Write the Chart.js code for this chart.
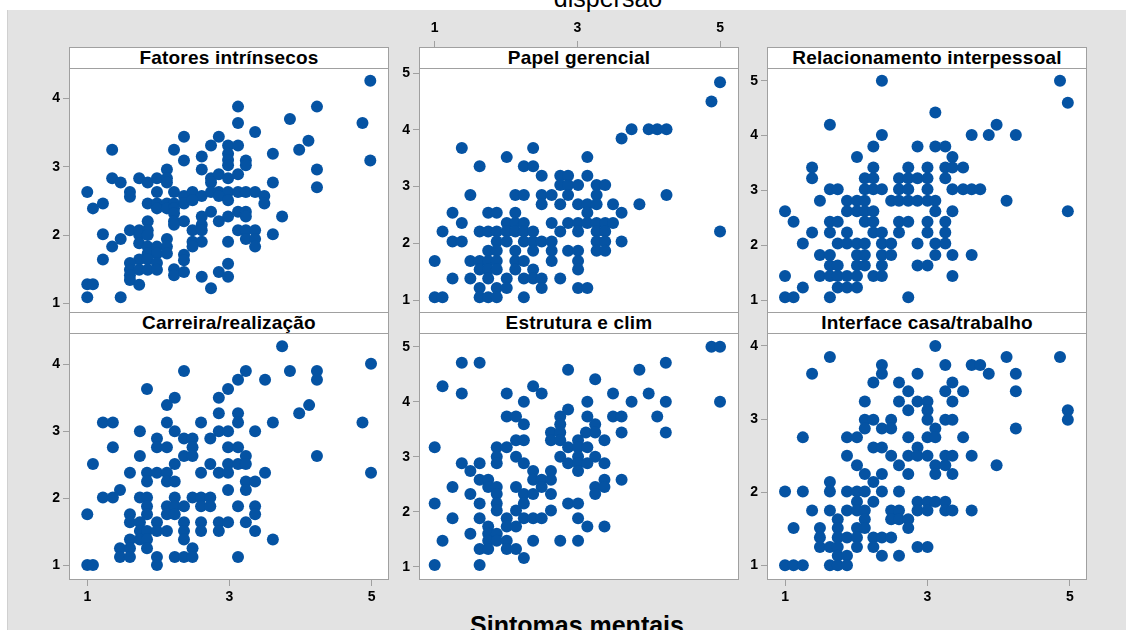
<!DOCTYPE html>
<html lang="pt">
<head>
<meta charset="utf-8">
<title>Matriz de dispersão</title>
<script src="https://cdn.jsdelivr.net/npm/chart.js@4.4.0/dist/chart.umd.min.js"></script>
<style>
  body { margin: 0; width: 1126px; height: 630px; overflow: hidden; background: #fff; position: relative; font-family: "Liberation Sans", Arial, sans-serif; }
  #bg { position: absolute; left: 7px; top: 10px; right: 0; bottom: 0; background: #e3e3e3; border-left: 1px solid #d0d0d0; }
  canvas { position: absolute; }
  .strip { position: absolute; box-sizing: border-box; background: #fff; border: 1px solid #a0a0a0; font-weight: bold; font-size: 19px; letter-spacing: 0.2px; line-height: 19px; text-align: center; color: #000; white-space: nowrap; }
  #topTitle { position: absolute; left: 508px; top: -14px; width: 200px; font-size: 25px; line-height: 25px; text-align: center; color: #000; }
  #xLabel { position: absolute; left: 427px; top: 613px; width: 300px; font-size: 25px; line-height: 25px; font-weight: bold; text-align: center; color: #000; }
</style>
</head>
<body>
<div id="bg"></div>
<div id="topTitle">dispersão</div>
<div id="xLabel">Sintomas mentais</div>
<script>
// data (x = Sintomas mentais)
const xTicks = [1, 3, 5];
const yTicks4 = [1, 2, 3, 4];
const yTicks5 = [1, 2, 3, 4, 5];

const fatoresX = [
  4.98, 3.12, 4.23, 3.12, 3.85, 4.87, 3.36, 2.36, 2.85, 4.11,
  1.35, 2.22, 2.74, 2.98, 3.12, 3.98, 3.61, 2.61, 2.98, 2.98,
  2.98, 2.36, 3.23, 3.23, 4.98, 2.12, 2.61, 4.23, 1.35, 1.47,
  1.73, 1.85, 1.98, 2.12, 2.12, 2.74, 2.85, 2.98, 3.12, 2.74,
  3.61, 4.23, 1.0, 1.60, 1.60, 1.98, 2.22, 2.36, 2.48, 2.61,
  2.74, 2.85, 2.98, 3.12, 3.23, 3.36, 3.49, 3.49, 2.85, 2.98,
  1.08, 1.22, 1.85, 1.98, 2.12, 2.22, 2.36, 2.48, 1.98, 2.12,
  2.22, 2.22, 2.74, 2.61, 2.85, 2.98, 3.12, 3.23, 3.23, 3.74,
  1.85, 2.22, 2.36, 2.22, 2.61, 1.60, 1.73, 1.85, 1.73, 1.85,
  1.22, 2.48, 2.61, 3.12, 3.23, 3.36, 3.23, 3.36, 3.36, 3.61,
  2.98, 2.48, 2.61, 2.48, 1.47, 1.35, 1.73, 1.85, 1.98, 2.12,
  2.12, 1.85, 1.98, 2.12, 1.22, 2.36, 2.36, 1.73, 1.85, 1.60,
  1.98, 1.60, 1.73, 1.85, 1.98, 1.60, 1.60, 1.73, 2.22, 2.22,
  2.36, 2.85, 2.98, 2.98, 2.61, 2.74, 1.0, 1.08, 1.0, 1.47
];
const fatoresY = [
  4.26, 3.88, 3.88, 3.64, 3.70, 3.64, 3.51, 3.44, 3.44, 3.38,
  3.25, 3.25, 3.31, 3.31, 3.31, 3.25, 3.19, 3.15, 3.19, 3.10,
  3.02, 3.09, 3.09, 3.02, 3.09, 2.96, 2.96, 2.96, 2.83, 2.77,
  2.83, 2.77, 2.83, 2.83, 2.77, 2.83, 2.89, 2.83, 2.89, 2.77,
  2.77, 2.70, 2.63, 2.63, 2.56, 2.63, 2.63, 2.57, 2.63, 2.57,
  2.63, 2.63, 2.63, 2.63, 2.63, 2.63, 2.57, 2.46, 2.57, 2.51,
  2.39, 2.46, 2.46, 2.46, 2.46, 2.46, 2.46, 2.51, 2.39, 2.39,
  2.39, 2.32, 2.34, 2.27, 2.20, 2.27, 2.34, 2.34, 2.27, 2.27,
  2.20, 2.20, 2.20, 2.15, 2.15, 2.07, 2.07, 2.07, 2.00, 2.00,
  2.01, 2.07, 2.07, 2.07, 2.07, 2.07, 1.94, 1.94, 1.83, 2.01,
  1.90, 1.90, 1.90, 1.83, 1.94, 1.83, 1.88, 1.83, 1.83, 1.94,
  1.83, 1.73, 1.73, 1.73, 1.64, 1.71, 1.63, 1.64, 1.64, 1.59,
  1.59, 1.49, 1.49, 1.49, 1.49, 1.41, 1.34, 1.27, 1.50, 1.41,
  1.46, 1.46, 1.58, 1.39, 1.39, 1.22, 1.28, 1.28, 1.09, 1.09
];

const papelX = [
  5.0, 4.88,
  3.62,
  3.76, 4.0, 4.12, 4.25,
  1.38, 2.38,
  2.01, 3.14,
  1.63, 2.25, 2.38,
  2.50, 2.76, 2.87, 3.14,
  2.76, 2.87, 3.01, 3.27, 3.39,
  1.50, 2.13, 2.25, 2.50, 2.64, 2.87, 3.27, 4.25,
  2.50, 2.76, 3.01, 3.14, 3.27, 3.50, 3.87,
  1.25, 1.75, 1.87, 2.13, 3.14, 3.62,
  1.38, 2.01, 2.13, 2.25, 2.64, 2.87, 3.01, 3.14, 3.27, 3.39, 3.50,
  1.11, 1.63, 1.75, 1.87, 2.01, 2.13, 2.25, 2.38, 2.76, 3.01, 3.27, 3.39, 5.0,
  1.25, 1.38, 1.87, 2.01, 2.25, 2.38, 2.50, 2.64, 3.27, 3.39, 3.62,
  1.75, 1.87, 2.13, 2.38, 2.64, 2.87, 3.01, 3.27, 3.39,
  1.0, 1.50, 1.63, 1.75, 1.87, 2.13, 2.25, 2.64, 3.01,
  1.63, 1.75, 1.87, 2.13, 2.38, 3.01,
  1.25, 1.50, 1.75, 2.01, 2.25, 2.38, 2.50, 2.76,
  1.63, 1.87, 2.01, 2.50, 3.01, 3.14,
  1.0, 1.11, 1.63, 1.75, 1.87, 2.25
];
const papelY = [
  4.84, 4.50,
  3.85,
  4.01, 4.01, 4.01, 4.01,
  3.68, 3.68,
  3.52, 3.52,
  3.36, 3.36, 3.36,
  3.19, 3.19, 3.19, 3.19,
  3.03, 3.03, 3.03, 3.03, 3.03,
  2.85, 2.85, 2.85, 2.85, 2.85, 2.85, 2.85, 2.85,
  2.69, 2.69, 2.69, 2.69, 2.69, 2.69, 2.69,
  2.54, 2.54, 2.54, 2.54, 2.54, 2.54,
  2.36, 2.36, 2.36, 2.36, 2.36, 2.36, 2.36, 2.36, 2.36, 2.36, 2.36,
  2.21, 2.21, 2.21, 2.21, 2.21, 2.21, 2.21, 2.21, 2.21, 2.21, 2.21, 2.21, 2.21,
  2.03, 2.03, 2.03, 2.03, 2.03, 2.03, 2.03, 2.03, 2.03, 2.03, 2.03,
  1.87, 1.87, 1.87, 1.87, 1.87, 1.87, 1.87, 1.87, 1.87,
  1.69, 1.69, 1.69, 1.69, 1.69, 1.69, 1.69, 1.69, 1.69,
  1.54, 1.54, 1.54, 1.54, 1.54, 1.54,
  1.38, 1.38, 1.38, 1.38, 1.38, 1.38, 1.38, 1.38,
  1.21, 1.21, 1.21, 1.21, 1.21, 1.21,
  1.05, 1.05, 1.05, 1.05, 1.05, 1.05
];

const relacX = [
  2.36, 4.86,
  4.97,
  3.11,
  1.63, 3.97,
  2.36, 3.62, 3.86, 4.24,
  2.24, 2.86, 3.11, 3.25,
  2.01, 3.35,
  1.38, 2.24, 2.73, 3.0, 3.25, 3.35, 3.50,
  1.38, 2.12, 2.24, 2.60, 2.73, 2.86, 3.0, 3.25,
  1.63, 1.74, 2.12, 2.24, 2.36, 2.60, 2.73, 3.0, 3.35, 3.50, 3.62, 3.74,
  1.49, 1.87, 2.01, 2.12, 2.49, 2.60, 2.73, 2.86, 3.0, 3.11, 4.11,
  1.0, 1.87, 2.01, 2.12, 2.24, 3.11, 3.35, 4.97,
  1.12, 1.63, 1.74, 2.12, 2.24, 2.60, 2.73, 3.0, 3.25,
  1.38, 1.63, 1.87, 2.24, 2.36, 2.60, 3.0, 3.25,
  1.25, 1.74, 1.87, 2.01, 2.12, 2.36, 2.49, 2.86, 3.11, 3.25,
  1.49, 1.63, 2.01, 2.12, 2.36, 2.49, 3.11, 3.35, 3.62,
  1.63, 1.74, 2.01, 2.12, 2.36, 2.86, 3.0,
  1.0, 1.49, 1.63, 1.74, 1.87, 2.01, 2.24, 2.36, 3.35,
  1.25, 1.74, 1.87, 2.01,
  1.0, 1.12, 1.63, 2.73
];
const relacY = [
  5.0, 5.0,
  4.6,
  4.42,
  4.2, 4.2,
  4.01, 4.01, 4.01, 4.01,
  3.80, 3.80, 3.80, 3.80,
  3.61, 3.61,
  3.42, 3.42, 3.42, 3.42, 3.42, 3.42, 3.42,
  3.22, 3.22, 3.22, 3.22, 3.22, 3.22, 3.22, 3.22,
  3.02, 3.02, 3.02, 3.02, 3.02, 3.02, 3.02, 3.02, 3.02, 3.02, 3.02, 3.02,
  2.81, 2.81, 2.81, 2.81, 2.81, 2.81, 2.81, 2.81, 2.81, 2.81, 2.81,
  2.62, 2.62, 2.62, 2.62, 2.62, 2.62, 2.62, 2.62,
  2.43, 2.43, 2.43, 2.43, 2.43, 2.43, 2.43, 2.43, 2.43,
  2.23, 2.23, 2.23, 2.23, 2.23, 2.23, 2.23, 2.23,
  2.03, 2.03, 2.03, 2.03, 2.03, 2.03, 2.03, 2.03, 2.03, 2.03,
  1.82, 1.82, 1.82, 1.82, 1.82, 1.82, 1.82, 1.82, 1.82,
  1.63, 1.63, 1.63, 1.63, 1.63, 1.63, 1.63,
  1.44, 1.44, 1.44, 1.44, 1.44, 1.44, 1.44, 1.44, 1.44,
  1.23, 1.23, 1.23, 1.23,
  1.05, 1.05, 1.05, 1.05
];

const carreiraX = [
  3.74,
  4.99,
  2.36, 3.23, 3.85, 4.23,
  3.12, 3.50, 4.23,
  1.84, 2.98,
  2.23, 2.85,
  2.12, 4.12,
  2.85, 3.12, 3.98,
  1.22, 1.36, 2.12, 2.60, 3.12, 3.61, 4.87,
  1.74, 2.23, 2.85, 2.98, 3.36,
  1.98, 2.36, 2.48, 2.73,
  1.36, 1.98, 2.12, 2.48, 2.98, 3.12,
  1.74, 2.36, 2.48, 3.23, 4.23,
  1.08, 2.23, 2.73, 2.98, 3.12, 3.23,
  1.60, 1.84, 1.98, 2.12, 2.60, 2.85, 2.98, 3.50, 4.99,
  1.84, 2.12, 2.23, 3.23, 3.36,
  1.46, 2.98, 3.23,
  1.22, 1.36, 1.74, 1.84, 2.23, 2.48, 2.60, 2.73,
  1.84, 2.12, 2.23, 2.36, 2.60, 2.73, 3.12, 3.36,
  1.0, 1.60, 1.84, 2.12, 2.23, 3.36,
  1.60, 1.74, 1.98, 2.36, 2.60, 2.85, 2.98, 3.23,
  1.74, 1.84, 1.98, 2.12, 2.36, 2.60, 2.85, 3.36,
  1.60, 1.74, 1.84, 2.36, 3.61,
  1.46, 1.60, 1.84, 2.48,
  1.46, 1.60, 1.98, 2.23, 2.36, 2.48, 3.12,
  1.0, 1.08, 1.98
];
const carreiraY = [
  4.27,
  4.01,
  3.90, 3.90, 3.90, 3.90,
  3.77, 3.77, 3.77,
  3.63, 3.63,
  3.50, 3.50,
  3.39, 3.39,
  3.27, 3.27, 3.27,
  3.13, 3.13, 3.13, 3.13, 3.13, 3.13, 3.13,
  3.00, 3.00, 3.00, 3.00, 3.00,
  2.89, 2.89, 2.89, 2.89,
  2.76, 2.76, 2.76, 2.76, 2.76, 2.76,
  2.63, 2.63, 2.63, 2.63, 2.63,
  2.51, 2.51, 2.51, 2.51, 2.51, 2.51,
  2.38, 2.38, 2.38, 2.38, 2.38, 2.38, 2.38, 2.38, 2.38,
  2.25, 2.25, 2.25, 2.25, 2.25,
  2.12, 2.12, 2.12,
  2.01, 2.01, 2.01, 2.01, 2.01, 2.01, 2.01, 2.01,
  1.88, 1.88, 1.88, 1.88, 1.88, 1.88, 1.88, 1.88,
  1.76, 1.76, 1.76, 1.76, 1.76, 1.76,
  1.64, 1.64, 1.64, 1.64, 1.64, 1.64, 1.64, 1.64,
  1.51, 1.51, 1.51, 1.51, 1.51, 1.51, 1.51, 1.51,
  1.38, 1.38, 1.38, 1.38, 1.38,
  1.25, 1.25, 1.25, 1.25,
  1.12, 1.12, 1.12, 1.12, 1.12, 1.12, 1.12,
  1.00, 1.00, 1.00
];

const estruturaX = [
  4.88, 5.0,
  1.38, 1.63, 4.24,
  2.87, 3.87,
  3.25,
  1.11, 2.38,
  1.38, 2.01, 2.50, 3.50, 4.0,
  2.25, 3.14, 3.76, 4.24, 5.0,
  2.87,
  2.01, 2.14, 2.76, 3.14, 3.50, 3.62, 4.12,
  2.25, 2.76, 3.25,
  2.63, 2.76, 3.12, 3.25, 3.62, 4.24,
  2.14, 2.25, 2.63, 2.76, 3.01, 3.38,
  1.0, 1.87, 2.01, 2.87, 3.01, 3.14,
  1.87, 2.14, 2.76, 3.01, 3.25,
  1.38, 1.63, 1.87, 2.25, 2.87, 3.01, 3.14, 3.38,
  1.50, 2.38, 2.63, 3.01,
  1.63, 1.75, 2.38, 2.50, 2.63, 3.38, 3.62,
  1.25, 1.75, 1.87, 2.14, 2.50, 3.25, 3.38,
  1.50, 1.87, 2.25, 2.38, 2.63, 3.25,
  1.0, 1.63, 1.87, 2.25, 2.87, 3.01,
  1.87, 2.14, 2.63,
  1.25, 1.63, 2.01, 2.25, 2.38, 2.50, 3.01,
  1.75, 2.01, 2.14, 3.14, 3.38,
  1.50, 1.75, 1.87,
  1.11, 1.75, 1.87, 2.01, 2.38, 2.76, 3.01,
  1.63, 1.75, 2.01, 2.14,
  2.25,
  1.0, 1.63
];
const estruturaY = [
  5.0, 5.0,
  4.71, 4.71, 4.71,
  4.58, 4.58,
  4.41,
  4.28, 4.28,
  4.15, 4.15, 4.15, 4.15, 4.15,
  4.0, 4.0, 4.0, 4.0, 4.0,
  3.86,
  3.73, 3.73, 3.73, 3.73, 3.73, 3.73, 3.73,
  3.59, 3.59, 3.59,
  3.44, 3.44, 3.44, 3.44, 3.44, 3.44,
  3.30, 3.30, 3.30, 3.30, 3.30, 3.30,
  3.17, 3.17, 3.17, 3.17, 3.17, 3.17,
  3.0, 3.0, 3.0, 3.0, 3.0,
  2.88, 2.88, 2.88, 2.88, 2.88, 2.88, 2.88, 2.88,
  2.74, 2.74, 2.74, 2.74,
  2.58, 2.58, 2.58, 2.58, 2.58, 2.58, 2.58,
  2.45, 2.45, 2.45, 2.45, 2.45, 2.45, 2.45,
  2.32, 2.32, 2.32, 2.32, 2.32, 2.32,
  2.15, 2.15, 2.15, 2.15, 2.15, 2.15,
  2.02, 2.02, 2.02,
  1.88, 1.88, 1.88, 1.88, 1.88, 1.88, 1.88,
  1.73, 1.73, 1.73, 1.73, 1.73,
  1.60, 1.60, 1.60,
  1.47, 1.47, 1.47, 1.47, 1.47, 1.47, 1.47,
  1.32, 1.32, 1.32, 1.32,
  1.16,
  1.03, 1.03
];

const interfaceX = [
  3.11,
  1.63, 4.11, 4.86,
  2.36, 3.25, 3.62, 3.74,
  1.38, 2.36, 2.86, 3.86, 4.24,
  2.24, 2.60, 3.35,
  2.73, 3.25, 3.50, 4.24,
  2.12, 2.60, 2.86, 3.0, 3.35,
  2.73, 3.0, 4.97,
  2.12, 2.24, 2.49, 3.0, 3.25, 3.35, 4.97,
  2.12, 2.36, 2.49, 3.11, 4.24,
  1.25, 1.87, 2.01, 2.73, 3.0, 3.11, 3.50,
  2.24, 2.36, 2.86,
  1.87, 2.49, 2.73, 2.86, 3.0, 3.25, 3.35, 3.62,
  2.01, 2.60, 3.11, 3.25, 3.97,
  2.12, 2.36, 2.73, 3.11, 3.35,
  1.63, 2.24,
  1.0, 1.25, 1.63, 1.87, 2.01, 2.12, 2.36, 2.60,
  2.01, 2.24, 2.86, 3.0, 3.11, 3.25,
  1.38, 1.63, 1.87, 2.01, 2.12, 2.49, 2.60, 2.86, 3.0, 3.25, 3.35, 3.62,
  1.74, 2.12, 2.49, 2.60, 2.73,
  1.12, 1.49, 1.74, 2.01, 2.12, 2.73,
  1.49, 1.74, 1.87, 2.01, 2.24, 2.36, 2.49,
  1.49, 1.63, 1.74, 2.01, 2.24, 2.86, 3.0,
  1.74, 1.87, 2.36, 2.60,
  1.0, 1.12, 1.25, 1.63, 1.74, 1.87
];
const interfaceY = [
  4.0,
  3.85, 3.85, 3.85,
  3.74, 3.74, 3.74, 3.74,
  3.62, 3.62, 3.62, 3.62, 3.62,
  3.50, 3.50, 3.50,
  3.38, 3.38, 3.38, 3.38,
  3.24, 3.24, 3.24, 3.24, 3.24,
  3.12, 3.12, 3.12,
  2.99, 2.99, 2.99, 2.99, 2.99, 2.99, 2.99,
  2.87, 2.87, 2.87, 2.87, 2.87,
  2.75, 2.75, 2.75, 2.75, 2.75, 2.75, 2.75,
  2.61, 2.61, 2.61,
  2.50, 2.50, 2.50, 2.50, 2.50, 2.50, 2.50, 2.50,
  2.37, 2.37, 2.37, 2.37, 2.37,
  2.25, 2.25, 2.25, 2.25, 2.25,
  2.14, 2.14,
  2.01, 2.01, 2.01, 2.01, 2.01, 2.01, 2.01, 2.01,
  1.87, 1.87, 1.87, 1.87, 1.87, 1.87,
  1.75, 1.75, 1.75, 1.75, 1.75, 1.75, 1.75, 1.75, 1.75, 1.75, 1.75, 1.75,
  1.63, 1.63, 1.63, 1.63, 1.63,
  1.51, 1.51, 1.51, 1.51, 1.51, 1.51,
  1.38, 1.38, 1.38, 1.38, 1.38, 1.38, 1.38,
  1.25, 1.25, 1.25, 1.25, 1.25, 1.25, 1.25,
  1.13, 1.13, 1.13, 1.13,
  1.0, 1.0, 1.0, 1.0, 1.0, 1.0
];

// layout of the 3x2 grid (page pixels)
const frameColor = '#a0a0a0';
const dotColor = '#0553a3';
const tickFont = { family: '"Liberation Sans", Arial, sans-serif', size: 14, weight: 'bold' };
const cols = [[69, 389], [419, 739], [767, 1087]];
const rows = [[47, 68, 313], [312, 333, 580]]; // strip top, strip bottom, plot bottom
const xRanges = [[0.743, 5.243], [0.780, 5.266], [0.747, 5.239]];

const panels = [
  { title: 'Fatores intrínsecos', xs: fatoresX, ys: fatoresY, yTicks: yTicks4, col: 0, row: 0, yRange: [0.858, 4.753], xSide: null },
  { title: 'Papel gerencial', xs: papelX, ys: papelY, yTicks: yTicks5, col: 1, row: 0, yRange: [0.771, 5.462], xSide: 'top' },
  { title: 'Relacionamento interpessoal', xs: relacX, ys: relacY, yTicks: yTicks5, col: 2, row: 0, yRange: [0.763, 5.617], xSide: null },
  { title: 'Carreira/realização', xs: carreiraX, ys: carreiraY, yTicks: yTicks4, col: 0, row: 1, yRange: [0.776, 4.782], xSide: 'bottom' },
  { title: 'Estrutura e clim', xs: estruturaX, ys: estruturaY, yTicks: yTicks5, col: 1, row: 1, yRange: [0.758, 5.631], xSide: null },
  { title: 'Interface casa/trabalho', xs: interfaceX, ys: interfaceY, yTicks: yTicks4, col: 2, row: 1, yRange: [0.799, 4.465], xSide: 'bottom' }
];

// white plot area + grey frame
const framePlugin = {
  id: 'frame',
  beforeDraw(chart) {
    const a = chart.chartArea;
    chart.ctx.save();
    chart.ctx.fillStyle = '#fff';
    chart.ctx.fillRect(a.left, a.top, a.width, a.height);
    chart.ctx.restore();
  },
  afterDraw(chart) {
    const a = chart.chartArea;
    const ctx = chart.ctx;
    ctx.save();
    ctx.strokeStyle = frameColor;
    ctx.lineWidth = 1;
    ctx.strokeRect(a.left + 0.5, a.top + 0.5, a.width - 1, a.height - 1);
    ctx.restore();
  }
};

function xScale(position, show, range) {
  return {
    type: 'linear',
    position: position,
    min: range[0],
    max: range[1],
    afterFit: s => { s.height = 40; },
    afterBuildTicks: s => { s.ticks = xTicks.map(v => ({ value: v })); },
    grid: { display: show, drawOnChartArea: false, drawTicks: true, tickLength: 6, color: frameColor },
    border: { display: false },
    ticks: { display: show, color: '#000', font: tickFont, padding: position === 'top' ? 4 : 3, maxRotation: 0, autoSkip: false }
  };
}

panels.forEach((p, i) => {
  const [L, R] = cols[p.col];
  const [T, S, B] = rows[p.row];

  const canvas = document.createElement('canvas');
  canvas.width = R - L + 60;
  canvas.height = B - T + 80;
  canvas.style.left = (L - 50) + 'px';
  canvas.style.top = (T - 40) + 'px';
  document.body.appendChild(canvas);

  const strip = document.createElement('div');
  strip.className = 'strip';
  strip.style.left = L + 'px';
  strip.style.top = T + 'px';
  strip.style.width = (R - L) + 'px';
  strip.style.height = (S - T + 1) + 'px';
  strip.textContent = p.title;
  document.body.appendChild(strip);

  new Chart(canvas, {
    type: 'scatter',
    data: {
      datasets: [{
        data: p.xs.map((x, j) => ({ x: x, y: p.ys[j] })),
        backgroundColor: dotColor,
        borderWidth: 0,
        pointRadius: 6,
        pointHoverRadius: 6
      }]
    },
    options: {
      responsive: false,
      animation: false,
      devicePixelRatio: 1,
      events: [],
      layout: { padding: { left: 0, right: 10, top: 0, bottom: 0 }, autoPadding: false },
      plugins: { legend: { display: false }, tooltip: { enabled: false } },
      scales: {
        x: xScale('bottom', p.xSide === 'bottom', xRanges[p.col]),
        x2: xScale('top', p.xSide === 'top', xRanges[p.col]),
        y: {
          type: 'linear',
          position: 'left',
          min: p.yRange[0],
          max: p.yRange[1],
          afterFit: s => { s.width = 50; },
          afterBuildTicks: s => { s.ticks = p.yTicks.map(v => ({ value: v })); },
          grid: { drawOnChartArea: false, drawTicks: true, tickLength: 6, color: frameColor },
          border: { display: false },
          ticks: { color: '#000', font: tickFont, padding: 3 }
        }
      }
    },
    plugins: [framePlugin]
  });
});
</script>
</body>
</html>
